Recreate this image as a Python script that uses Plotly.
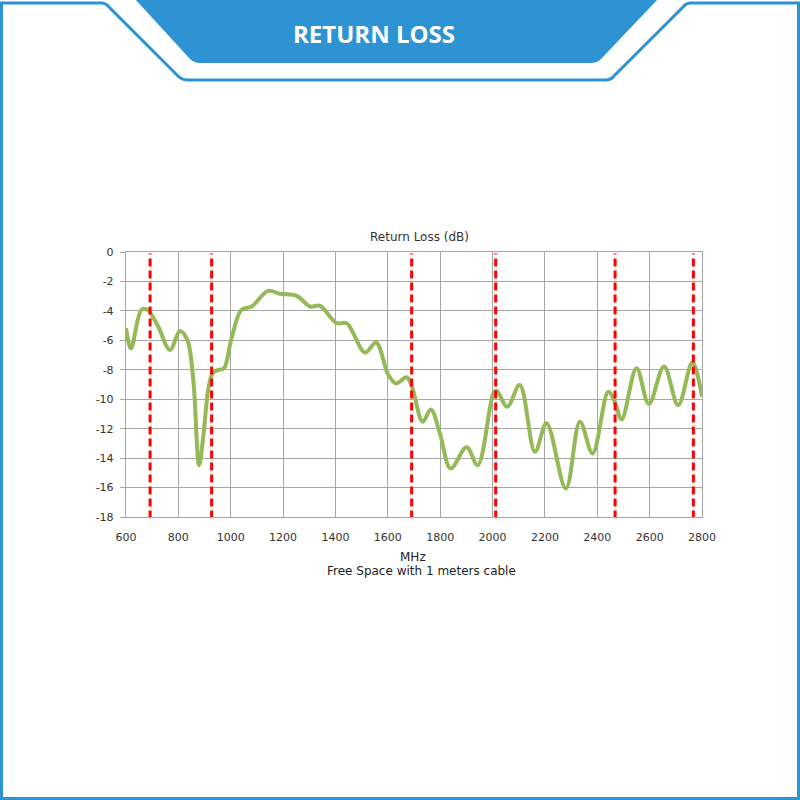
import plotly.graph_objects as go

# ---- data ----
freq_mhz = [600, 619, 660, 685, 692, 723, 768, 806, 834, 857, 879, 895, 914, 931, 953, 974,
            1003, 1041, 1080, 1143, 1188, 1252, 1303, 1341, 1405, 1443, 1513, 1555, 1602,
            1631, 1672, 1693, 1733, 1764, 1799, 1840, 1901, 1943, 2003, 2015, 2056, 2104,
            2162, 2206, 2280, 2334, 2382, 2442, 2467, 2493, 2550, 2597, 2655, 2709, 2763, 2800]
return_loss_db = [-5.17, -6.54, -3.9, -3.95, -4.1, -5.06, -6.65, -5.36, -5.97, -8.69, -14.48,
                  -12.55, -9.37, -8.24, -8.01, -7.9, -5.86, -3.93, -3.7, -2.64, -2.84, -2.98,
                  -3.7, -3.66, -4.84, -4.84, -6.83, -6.15, -8.35, -8.92, -8.51, -9.2, -11.53,
                  -10.69, -12.32, -14.7, -13.27, -14.48, -9.6, -9.4, -10.51, -9.03, -13.57,
                  -11.64, -16.07, -11.53, -13.68, -9.49, -10.17, -11.37, -7.9, -10.33, -7.78,
                  -10.4, -7.51, -9.83]
band_edges_mhz = [692, 927, 1691, 2012, 2468, 2767]
x_ticks = [600, 800, 1000, 1200, 1400, 1600, 1800, 2000, 2200, 2400, 2600, 2800]
y_ticks = [0, -2, -4, -6, -8, -10, -12, -14, -16, -18]
y_tick_labels = ["0", "-2", "-4", "-6", "-8", "-10", "-12", "-14", "-16", "-18"]

chart_title = "Return Loss (dB)"
x_title = "MHz"
subtitle = "Free Space with 1 meters cable"
banner_text = "RETURN LOSS"

W = H = 800
BLUE = "#2D93D3"


def px(x, y):
    return f"{x / W:.5f},{1 - y / H:.5f}"


fig = go.Figure()
fig.add_trace(go.Scatter(
    x=freq_mhz, y=return_loss_db, mode="lines",
    line=dict(color="#94B957", width=4, shape="spline", smoothing=1.0),
    hoverinfo="skip", showlegend=False,
))

shapes = []
for f in band_edges_mhz:
    shapes.append(dict(type="line", xref="x", yref="y", x0=f, x1=f, y0=-18.1, y1=-0.1,
                       line=dict(color="#FF0000", width=3, dash="8px,4px"), layer="above"))

# outer frame with notch
frame_pts = [
    "M", px(1.5, 800), "L", px(1.5, 3), "L", px(101, 3), "Q", px(106, 3), px(109, 7),
    "L", px(178, 76), "Q", px(182, 80), px(188, 80), "L", px(605, 80),
    "Q", px(611, 80), px(614, 76), "L", px(683, 7), "Q", px(686, 3), px(691, 3),
    "L", px(798.5, 3), "L", px(798.5, 798.5), "L", px(1.5, 798.5), "Z",
]
shapes.append(dict(type="path", xref="paper", yref="paper", path=" ".join(frame_pts),
                   line=dict(color=BLUE, width=3), fillcolor="rgba(0,0,0,0)"))
# banner trapezoid
ban_pts = [
    "M", px(135, -1), "L", px(658, -1), "L", px(601, 59), "Q", px(597, 63), px(591, 63),
    "L", px(200, 63), "Q", px(194, 63), px(190, 59), "Z",
]
shapes.append(dict(type="path", xref="paper", yref="paper", path=" ".join(ban_pts),
                   line=dict(color=BLUE, width=0), fillcolor=BLUE))

annotations = [
    dict(text=f"<b>{banner_text}</b>", xref="paper", yref="paper", x=374 / W, y=1 - 33 / H,
         xanchor="center", yanchor="middle", showarrow=False,
         font=dict(family="Open Sans", size=24, color="white")),
    dict(text=chart_title, xref="paper", yref="paper", x=419 / W, y=1 - 237 / H,
         xanchor="center", yanchor="middle", showarrow=False,
         font=dict(family="DejaVu Sans", size=12, color="#333333")),
    dict(text=x_title, xref="paper", yref="paper", x=413 / W, y=1 - 557 / H,
         xanchor="center", yanchor="middle", showarrow=False,
         font=dict(family="DejaVu Sans", size=12, color="#222222")),
    dict(text=subtitle, xref="paper", yref="paper", x=421 / W, y=1 - 571 / H,
         xanchor="center", yanchor="middle", showarrow=False,
         font=dict(family="DejaVu Sans", size=12, color="#222222")),
]

fig.update_layout(
    template="none",
    width=W, height=H, margin=dict(l=0, r=0, t=0, b=0, pad=0, autoexpand=False),
    paper_bgcolor="white", plot_bgcolor="white",
    shapes=shapes, annotations=annotations, showlegend=False,
    xaxis=dict(domain=[126 / W, 702 / W], range=[600, 2800], tickvals=x_ticks,
               automargin=False,
               showgrid=True, gridcolor="#A6A6A6", gridwidth=1.4, zeroline=False,
               showline=True, linecolor="#A6A6A6", linewidth=1.4, mirror=True,
               ticks="", ticklabelstandoff=10,
               tickfont=dict(family="DejaVu Sans", size=11, color="#333333")),
    yaxis=dict(domain=[1 - 517 / H, 1 - 252 / H], range=[-18, 0], tickvals=y_ticks,
               ticktext=y_tick_labels, automargin=False,
               showgrid=True, gridcolor="#A6A6A6", gridwidth=1.4, zeroline=False,
               showline=True, linecolor="#A6A6A6", linewidth=1.4, mirror=True,
               ticks="outside", ticklen=5, tickcolor="#A6A6A6", tickwidth=1.4,
               ticklabelstandoff=4,
               tickfont=dict(family="DejaVu Sans", size=11, color="#333333")),
)

fig.write_html(
    "out.html",
    config={"displayModeBar": False},
    post_script="document.body.style.margin='0';document.body.style.overflow='hidden';",
)
